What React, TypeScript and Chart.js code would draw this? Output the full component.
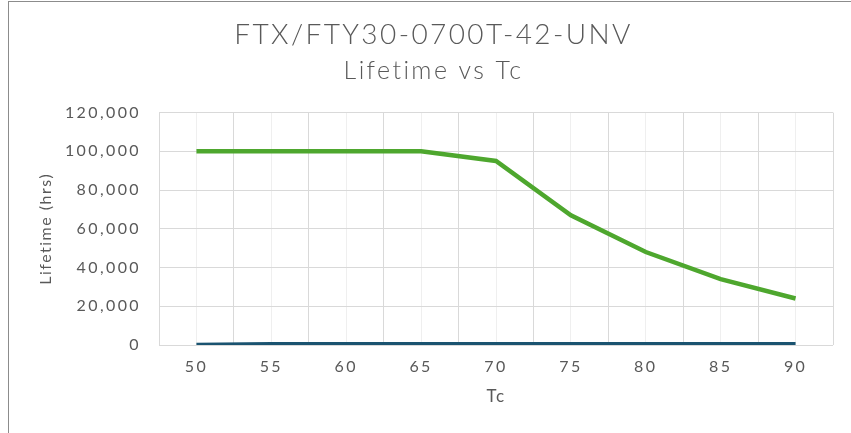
import React, { useEffect, useRef } from "react";
import { Chart, registerables } from "chart.js";

Chart.register(...registerables);

const xValues = [50, 55, 60, 65, 70, 75, 80, 85, 90];
const lifetimeHours = [100000, 100000, 100000, 100000, 95000, 67000, 48000, 34000, 24000];
const secondSeries = [0, 400, 400, 400, 400, 400, 400, 400, 400];
const xLabelTicks = [50, 55, 60, 65, 70, 75, 80, 85, 90];
const yTickValues = [0, 20000, 40000, 60000, 80000, 100000, 120000];

const FONT = "Lato, 'DejaVu Sans', sans-serif";
const TEXT = "#595959";
const SPACING = "2.4px";

const spacingPlugin = {
  id: "letterSpacing",
  beforeUpdate(chart: any) {
    (chart.ctx as any).letterSpacing = SPACING;
  },
  beforeDraw(chart: any) {
    (chart.ctx as any).letterSpacing = SPACING;
  },
};

function patchTitle(scale: any, spacing: string) {
  if (scale._spacingPatched) return;
  const orig = scale.drawTitle.bind(scale);
  scale.drawTitle = (...args: any[]) => {
    const c = scale.ctx as any;
    const prev = c.letterSpacing;
    c.letterSpacing = spacing;
    orig(...args);
    c.letterSpacing = prev;
  };
  scale._spacingPatched = true;
}

export default function App() {
  const ref = useRef<HTMLCanvasElement | null>(null);

  useEffect(() => {
    document.body.style.margin = "0";
    const canvas = ref.current;
    if (!canvas) return;
    const chart = new Chart(canvas, {
      type: "line",
      plugins: [spacingPlugin],
      data: {
        datasets: [
          {
            label: "Lifetime",
            data: xValues.map((x, i) => ({ x, y: lifetimeHours[i] })),
            borderColor: "#4ea72e",
            backgroundColor: "#4ea72e",
            borderWidth: 4.5,
            pointRadius: 0,
            tension: 0,
          },
          {
            label: "Series 2",
            data: xValues.map((x, i) => ({ x, y: secondSeries[i] })),
            borderColor: "#1a5370",
            backgroundColor: "#1a5370",
            borderWidth: 4.5,
            pointRadius: 0,
            tension: 0,
          },
        ],
      },
      options: {
        responsive: false,
        animation: false,
        devicePixelRatio: 1,
        layout: { padding: { left: 34, right: 18, top: 0, bottom: 0 } },
        plugins: {
          legend: { display: false },
          tooltip: { enabled: false },
          title: {
            display: true,
            text: "FTX/FTY30-0700T-42-UNV",
            color: TEXT,
            font: { family: FONT, size: 28, weight: 300 as any },
            padding: { top: 18, bottom: 4 },
          },
          subtitle: {
            display: true,
            text: "Lifetime vs Tc",
            color: TEXT,
            font: { family: FONT, size: 25, weight: 300 as any },
            padding: { top: 0, bottom: 27 },
          },
        },
        scales: {
          x: {
            type: "linear",
            min: 47.5,
            max: 92.5,
            afterFit: (scale: any) => {
              scale.height = 88;
              patchTitle(scale, "1.5px");
            },
            afterBuildTicks: (scale: any) => {
              const t: any[] = [];
              for (let v = 47.5; v <= 92.5 + 1e-9; v += 2.5) t.push({ value: v });
              scale.ticks = t;
            },
            ticks: {
              autoSkip: false,
              maxRotation: 0,
              padding: 12,
              color: TEXT,
              font: { family: FONT, size: 16 },
              callback: (v: any) => (xLabelTicks.includes(Number(v)) ? String(v) : ""),
            },
            grid: {
              drawTicks: false,
              color: (ctx: any) =>
                ctx.tick && xLabelTicks.includes(Number(ctx.tick.value)) ? "#efefef" : "#d9d9d9",
              lineWidth: 1,
            },
            border: { display: false },
            title: {
              display: true,
              text: "Tc",
              color: TEXT,
              font: { family: FONT, size: 17 },
              padding: { top: 26, bottom: 26 },
            },
          },
          y: {
            type: "linear",
            min: 0,
            max: 120000,
            afterFit: (scale: any) => {
              scale.width = 125;
              patchTitle(scale, "1.5px");
            },
            afterBuildTicks: (scale: any) => {
              scale.ticks = yTickValues.map((v) => ({ value: v }));
            },
            ticks: {
              padding: 18,
              color: TEXT,
              font: { family: FONT, size: 16 },
              callback: (v: any) => Number(v).toLocaleString("en-US"),
            },
            grid: { drawTicks: false, color: "#d9d9d9", lineWidth: 1 },
            border: { display: false },
            title: {
              display: true,
              text: "Lifetime (hrs)",
              color: TEXT,
              font: { family: FONT, size: 16 },
              padding: { top: 2, bottom: 2 },
            },
          },
        },
      },
    });
    return () => chart.destroy();
  }, []);

  return (
    <div style={{ position: "relative", width: 851, height: 433, background: "#fff" }}>
      <canvas ref={ref} width={851} height={433} style={{ position: "absolute", left: 0, top: 0 }} />
      <div
        style={{
          position: "absolute",
          left: 8,
          top: 1,
          width: 843,
          height: 432,
          borderLeft: "1.5px solid #8c8c8c",
          borderTop: "1.5px solid #8c8c8c",
          boxSizing: "border-box",
          pointerEvents: "none",
        }}
      />
    </div>
  );
}
